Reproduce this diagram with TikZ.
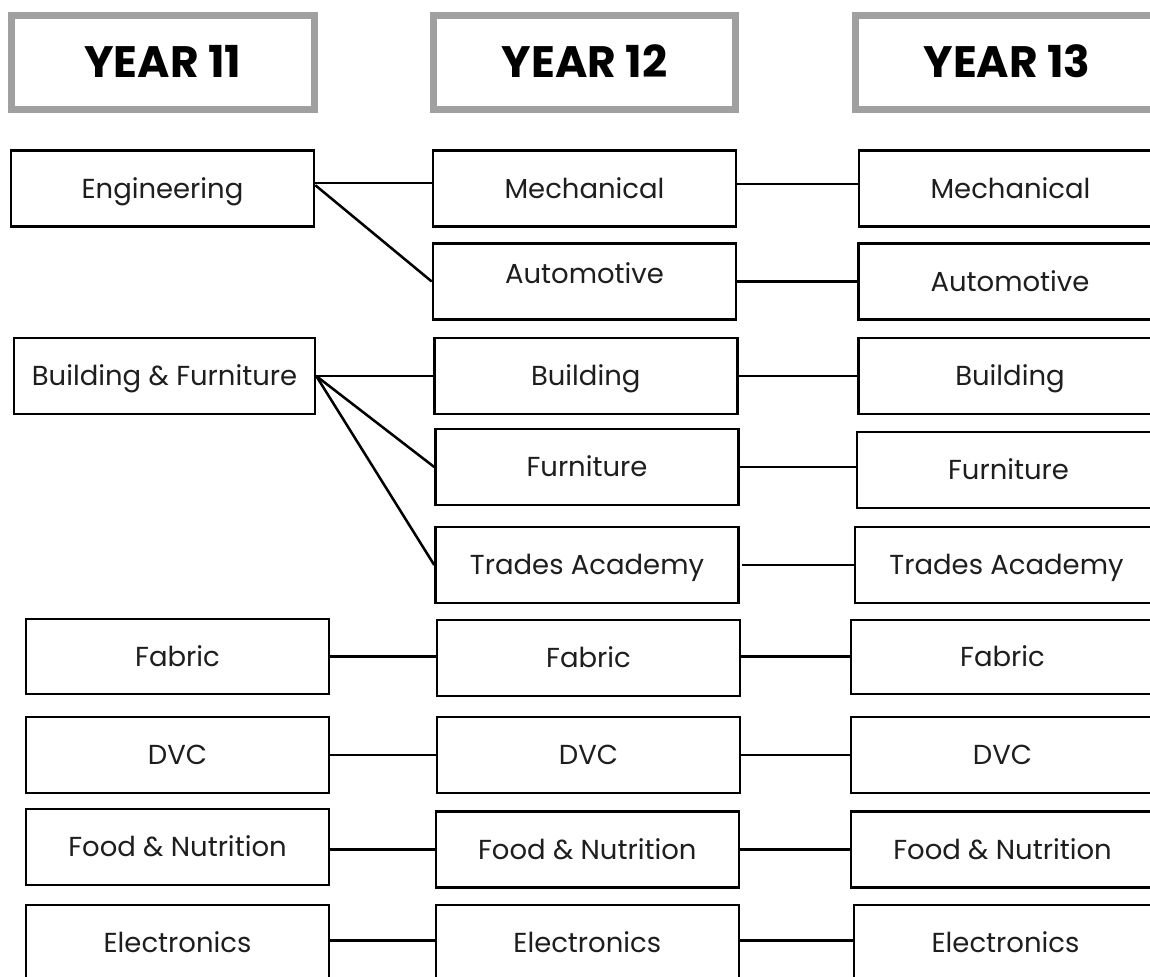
\documentclass[tikz,border=0pt]{standalone}
\usepackage{fontspec}
\setmainfont{Poppins}
\definecolor{hdrgray}{HTML}{A0A0A0}
\definecolor{txt}{HTML}{1E1E1E}
\begin{document}
\begin{tikzpicture}[x=0.75pt,y=-0.75pt,
  hdr/.style={draw=hdrgray, line width=5.2pt, minimum width=227pt, minimum height=70.5pt,
    inner sep=0pt, text height=23pt, text depth=0pt,
    font=\fontsize{33}{37}\selectfont\bfseries},
  box/.style={draw=black, line width=1.9pt, minimum width=227.25pt, minimum height=57pt,
    inner sep=0pt, text height=14.5pt, text depth=0pt, text=txt,
    font=\fontsize{20.6}{24}\selectfont},
  lnk/.style={draw=black, line width=1.9pt}]
\useasboundingbox (0,0) rectangle (1150,976);
\clip (0,0) rectangle (1150,976);
\fill[white] (0,0) rectangle (1150,976);

% headers
\node[hdr] (h11) at (162.7,62.5) {YEAR 11};
\node[hdr] (h12) at (584.5,62.5) {YEAR 12};
\node[hdr] (h13) at (1007,62.5) {YEAR 13};

% Year 11
\node[box] (eng)  at (162.5,188.5) {Engineering};
\node[box, minimum width=225.75pt] (bf) at (164.5,376) {Building \& Furniture};
\node[box, minimum height=56.25pt] (fab1) at (177.5,656.5) {Fabric};
\node[box] (dvc1) at (177.5,755) {DVC};
\node[box] (food1) at (177.5,847) {Food \& Nutrition};
\node[box] (elec1) at (177.5,943) {Electronics};

% Year 12
\node[box] (mech12) at (584.5,188.5) {Mechanical};
\node[box] (auto12) at (584.5,281.5) {\raisebox{6pt}[14.5pt][0pt]{Automotive}};
\node[box] (build12) at (585.75,376) {Building};
\node[box] (furn12) at (587,467) {Furniture};
\node[box] (trades12) at (587,565) {Trades Academy};
\node[box] (fab12) at (588.5,658) {Fabric};
\node[box] (dvc12) at (588.5,755) {DVC};
\node[box] (food12) at (587.3,849.5) {Food \& Nutrition};
\node[box] (elec12) at (587.3,943) {Electronics};

% Year 13
\node[box] (mech13) at (1010.5,188.5) {Mechanical};
\node[box] (auto13) at (1010,281.5) {Automotive};
\node[box] (build13) at (1010,376) {Building};
\node[box] (furn13) at (1008.5,470) {Furniture};
\node[box] (trades13) at (1006.5,565) {Trades Academy};
\node[box, minimum height=55.5pt] (fab13) at (1002.5,657) {Fabric};
\node[box] (dvc13) at (1002.5,755) {DVC};
\node[box] (food13) at (1002.5,849.5) {Food \& Nutrition};
\node[box] (elec13) at (1005.5,943) {Electronics};

% connectors
\draw[lnk] ([yshift=4pt]eng.east) -- ([yshift=4pt]mech12.west);
\draw[lnk] ([yshift=2.5pt]eng.east) -- (auto12.west);
\draw[lnk] ([yshift=3.5pt]mech12.east) -- ([yshift=3.5pt]mech13.west);
\draw[lnk] (auto12.east) -- (auto12.east -| auto13.west);
\draw[lnk] (bf.east) -- (bf.east -| build12.west);
\draw[lnk] (bf.east) -- (furn12.west);
\draw[lnk] (bf.east) -- (trades12.west);
\draw[lnk] (build12.east) -- (build12.east -| build13.west);
\draw[lnk] (furn12.east) -- (furn12.east -| furn13.west);
\draw[lnk] ([xshift=2pt]trades12.east) -- (trades12.east -| trades13.west);
\draw[lnk] (fab1.east) -- (fab1.east -| fab12.west);
\draw[lnk] (fab1.east -| fab12.east) -- (fab1.east -| fab13.west);
\draw[lnk] (dvc1.east) -- (dvc1.east -| dvc12.west);
\draw[lnk] (dvc12.east) -- (dvc12.east -| dvc13.west);
\draw[lnk] (food12.west -| food1.east) -- (food12.west);
\draw[lnk] (food12.east) -- (food12.east -| food13.west);
\draw[lnk] ([yshift=2pt]elec1.east) -- ([yshift=2pt]elec1.east -| elec12.west);
\draw[lnk] ([yshift=2pt]elec12.east) -- ([yshift=2pt]elec12.east -| elec13.west);
\end{tikzpicture}
\end{document}
